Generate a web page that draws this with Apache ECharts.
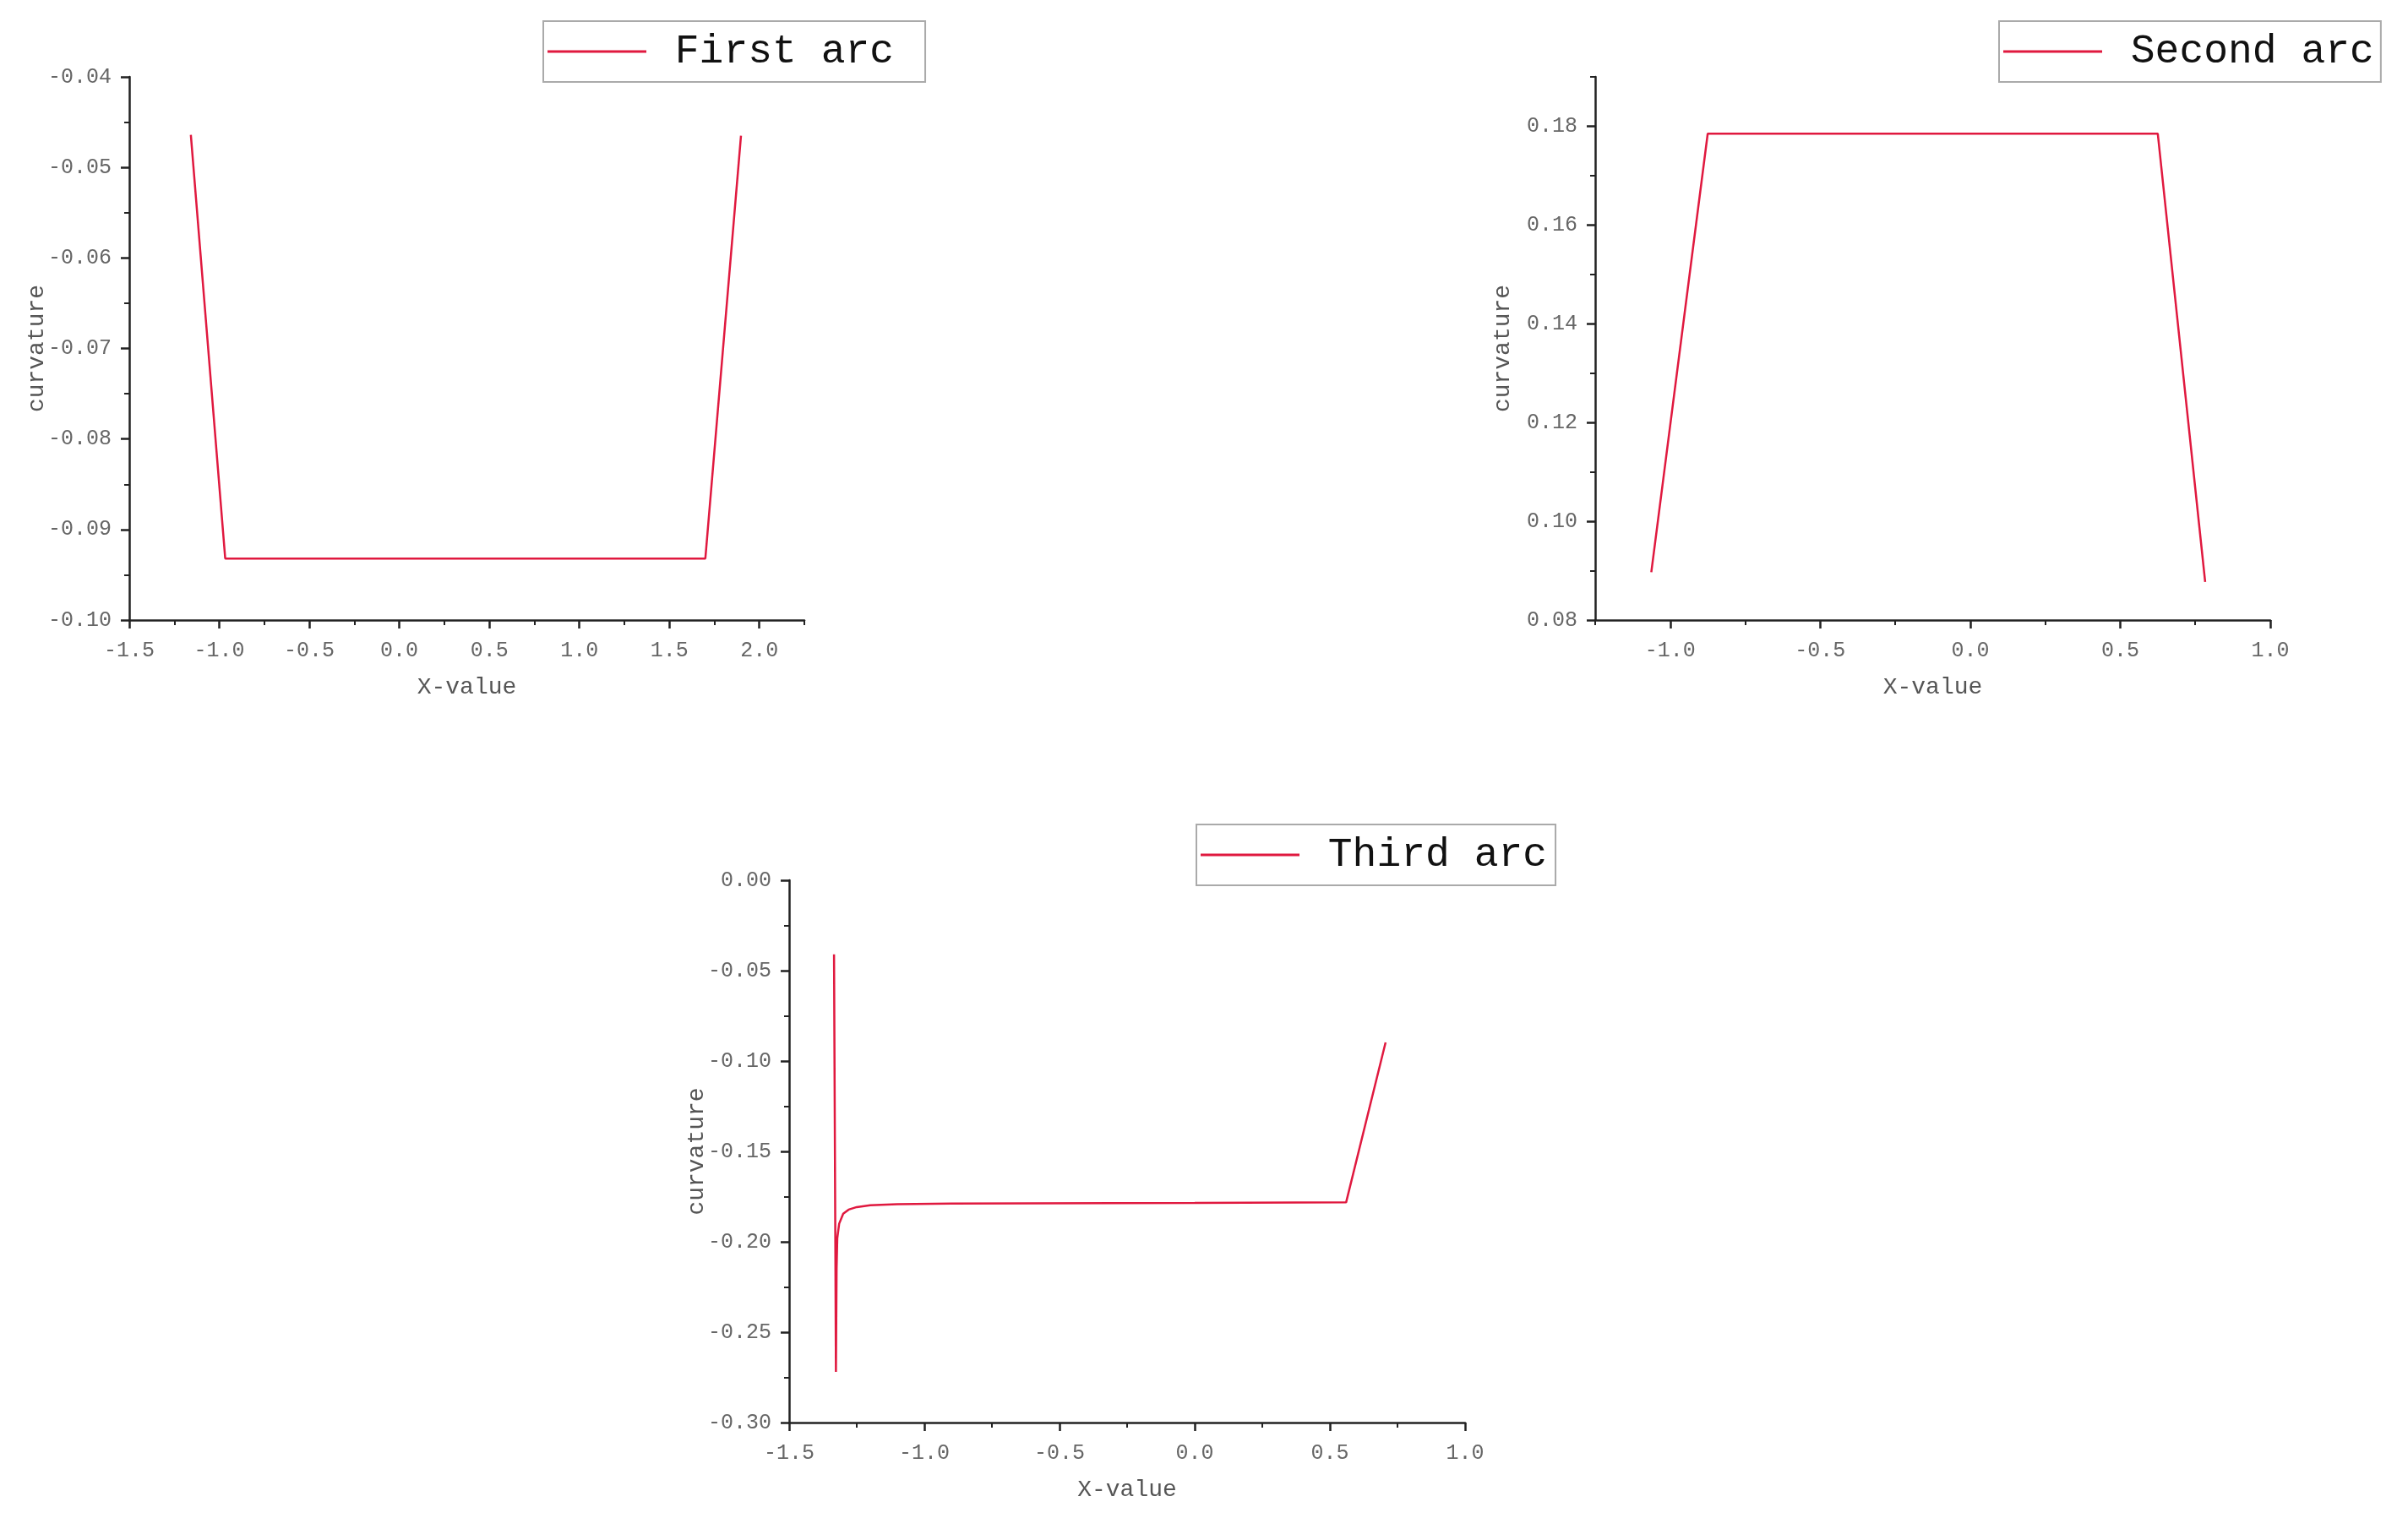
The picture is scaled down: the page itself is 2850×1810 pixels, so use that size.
<!DOCTYPE html>
<html>
<head>
<meta charset="utf-8">
<title>curvature</title>
<style>
    html, body { margin: 0; padding: 0; background: #fff; }
    #chart { width: 2850px; height: 1810px; }
</style>
</head>
<body>
<div id="chart"></div>
<script src="https://cdn.jsdelivr.net/npm/echarts@6.0.0/dist/echarts.min.js"></script>
<script>
// first arc
const arc1X = [-1.158, -0.967, 1.700, 1.898]
const arc1Y = [-0.0464, -0.0932, -0.0932, -0.0465]
// second arc
const arc2X = [-1.063, -0.875, 0.625, 0.783]
const arc2Y = [0.0897, 0.1785, 0.1785, 0.0877]
// third arc (sharp spike near the left end)
const arc3X = [-1.334, -1.327, -1.3245, -1.322, -1.315, -1.300, -1.280, -1.250, -1.200, -1.100, -0.900, 0.000, 0.560, 0.706]
const arc3Y = [-0.041, -0.272, -0.215, -0.198, -0.190, -0.1845, -0.1822, -0.1808, -0.1798, -0.1792, -0.1788, -0.1785, -0.1782, -0.0897]

// axis ranges and tick values
const arc1XRange = [-1.5, 2.25]
const arc1XTicks = [-1.5, -1.0, -0.5, 0.0, 0.5, 1.0, 1.5, 2.0]
const arc1XMinor = [-1.25, -0.75, -0.25, 0.25, 0.75, 1.25, 1.75, 2.25]
const arc1YRange = [-0.10, -0.04]
const arc1YTicks = [-0.10, -0.09, -0.08, -0.07, -0.06, -0.05, -0.04]
const arc1YMinor = [-0.095, -0.085, -0.075, -0.065, -0.055, -0.045]

const arc2XRange = [-1.25, 1.0]
const arc2XTicks = [-1.0, -0.5, 0.0, 0.5, 1.0]
const arc2XMinor = [-1.25, -0.75, -0.25, 0.25, 0.75]
const arc2YRange = [0.08, 0.19]
const arc2YTicks = [0.08, 0.10, 0.12, 0.14, 0.16, 0.18]
const arc2YMinor = [0.09, 0.11, 0.13, 0.15, 0.17, 0.19]

const arc3XRange = [-1.5, 1.0]
const arc3XTicks = [-1.5, -1.0, -0.5, 0.0, 0.5, 1.0]
const arc3XMinor = [-1.25, -0.75, -0.25, 0.25, 0.75]
const arc3YRange = [-0.30, 0.00]
const arc3YTicks = [-0.30, -0.25, -0.20, -0.15, -0.10, -0.05, 0.00]
const arc3YMinor = [-0.275, -0.225, -0.175, -0.125, -0.075, -0.025]

const RED = '#e0193f'
const AXIS = '#222'
const FONT = 'Liberation Mono'

function mainAxis(dim, gridIndex, range, ticks, digits, name) {
    const isX = dim === 'x'
    return {
        type: 'value',
        gridIndex: gridIndex,
        position: isX ? 'bottom' : 'left',
        min: range[0],
        max: range[1],
        name: name,
        nameLocation: 'middle',
        nameGap: isX ? 66 : 95,
        nameMoveOverlap: false,
        nameTextStyle: { fontFamily: FONT, fontSize: 28, color: '#555' },
        axisLine: { show: true, onZero: false, lineStyle: { color: AXIS, width: 2.5 } },
        axisTick: { show: true, customValues: ticks, length: 10, lineStyle: { color: AXIS, width: 2.5 } },
        axisLabel: {
            customValues: ticks,
            margin: isX ? 24 : 21,
            formatter: v => Number(v).toFixed(digits),
            fontFamily: FONT,
            fontSize: 25,
            color: '#666'
        },
        splitLine: { show: false }
    }
}

// second axis on the same grid, only for the short ticks between the labelled ones
function minorAxis(dim, gridIndex, range, ticks) {
    return {
        type: 'value',
        gridIndex: gridIndex,
        position: dim === 'x' ? 'bottom' : 'left',
        min: range[0],
        max: range[1],
        axisLine: { show: false, onZero: false },
        axisTick: { show: true, customValues: ticks, length: 6, lineStyle: { color: AXIS, width: 2 } },
        axisLabel: { show: false },
        splitLine: { show: false }
    }
}

function legendFor(name, left, top, padRight) {
    return {
        data: [name],
        left: left,
        top: top,
        selectedMode: false,
        icon: 'rect',
        itemWidth: 117,
        itemHeight: 3,
        itemStyle: { borderWidth: 0 },
        padding: [12, padRight, 12, 5],
        borderColor: '#aaa',
        borderWidth: 2,
        backgroundColor: '#fff',
        formatter: n => ' ' + n,
        textStyle: { fontFamily: FONT, fontSize: 48, color: '#111' }
    }
}

function arcSeries(name, xs, ys, axisIndex) {
    return {
        name: name,
        type: 'line',
        xAxisIndex: axisIndex,
        yAxisIndex: axisIndex,
        data: xs.map((x, i) => [x, ys[i]]),
        showSymbol: false,
        symbol: 'none',
        color: RED,
        lineStyle: { color: RED, width: 2.5 },
        animation: false
    }
}

const chart = echarts.init(document.getElementById('chart'))
chart.setOption({
    backgroundColor: '#fff',
    animation: false,
    grid: [
        { left: 153, top: 91, width: 799, height: 643, outerBoundsMode: 'none' },
        { left: 1888, top: 91, width: 799, height: 643, outerBoundsMode: 'none' },
        { left: 934, top: 1042, width: 800, height: 642, outerBoundsMode: 'none' }
    ],
    legend: [
        legendFor('First arc', 643, 25, 37),
        legendFor('Second arc', 2366, 25, 8),
        legendFor('Third arc', 1416, 976, 10)
    ],
    xAxis: [
        mainAxis('x', 0, arc1XRange, arc1XTicks, 1, 'X-value'),
        minorAxis('x', 0, arc1XRange, arc1XMinor),
        mainAxis('x', 1, arc2XRange, arc2XTicks, 1, 'X-value'),
        minorAxis('x', 1, arc2XRange, arc2XMinor),
        mainAxis('x', 2, arc3XRange, arc3XTicks, 1, 'X-value'),
        minorAxis('x', 2, arc3XRange, arc3XMinor)
    ],
    yAxis: [
        mainAxis('y', 0, arc1YRange, arc1YTicks, 2, 'curvature'),
        minorAxis('y', 0, arc1YRange, arc1YMinor),
        mainAxis('y', 1, arc2YRange, arc2YTicks, 2, 'curvature'),
        minorAxis('y', 1, arc2YRange, arc2YMinor),
        mainAxis('y', 2, arc3YRange, arc3YTicks, 2, 'curvature'),
        minorAxis('y', 2, arc3YRange, arc3YMinor)
    ],
    series: [
        arcSeries('First arc', arc1X, arc1Y, 0),
        arcSeries('Second arc', arc2X, arc2Y, 2),
        arcSeries('Third arc', arc3X, arc3Y, 4)
    ]
})
</script>
</body>
</html>
